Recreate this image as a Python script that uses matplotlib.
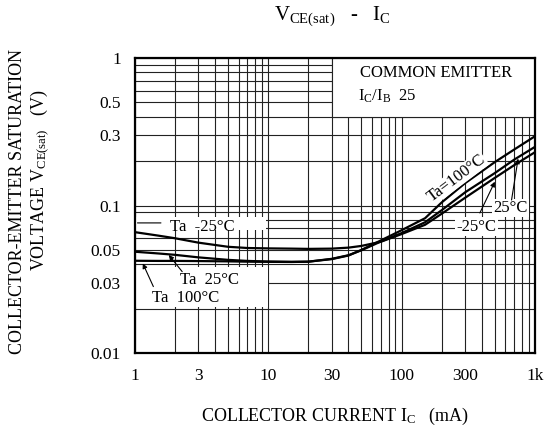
import matplotlib
matplotlib.use("Agg")
import matplotlib.pyplot as plt
from matplotlib.ticker import FixedLocator, LogLocator, NullFormatter
from matplotlib.patches import Rectangle

plt.rcParams['font.family'] = ['Liberation Serif', 'DejaVu Serif']
plt.rcParams['mathtext.fontset'] = 'custom'
plt.rcParams['mathtext.rm'] = 'Liberation Serif'
plt.rcParams['mathtext.it'] = 'Liberation Serif:italic'
plt.rcParams['mathtext.bf'] = 'Liberation Serif:bold'

# ---- data ----
ic = [1, 1.5, 2, 3, 5, 7, 10, 15, 20, 30, 40, 50, 70, 100, 150, 200, 300, 500, 700, 1000]
v_100 = [0.0422, 0.0421, 0.0421, 0.0420, 0.0418, 0.0416, 0.0415, 0.0414, 0.0416, 0.0433,
         0.0458, 0.0500, 0.0580, 0.068, 0.082, 0.105, 0.142, 0.197, 0.240, 0.295]
v_25 = [0.0486, 0.0473, 0.0463, 0.0445, 0.0428, 0.0421, 0.0417, 0.0415, 0.0416, 0.0435,
        0.0460, 0.0497, 0.0570, 0.065, 0.077, 0.093, 0.123, 0.166, 0.205, 0.250]
v_m25 = [0.0660, 0.0625, 0.0600, 0.0560, 0.0525, 0.0515, 0.0512, 0.0510, 0.0508, 0.0510,
         0.0518, 0.0532, 0.0568, 0.064, 0.074, 0.088, 0.113, 0.154, 0.188, 0.230]

x_ticks = [1, 3, 10, 30, 100, 300, 1000]
x_ticklabels = ['1', '3', '10', '30', '100', '300', '1k']
y_ticks = [0.01, 0.03, 0.05, 0.1, 0.3, 0.5, 1]
y_ticklabels = ['0.01', '0.03', '0.05', '0.1', '0.3', '0.5', '1']

# ---- figure ----
fig = plt.figure(figsize=(5.44, 4.32), dpi=100)
ax = fig.add_axes([0.2476, 0.1829, 0.7359, 0.6828])
ax.set_xscale('log')
ax.set_yscale('log')
ax.set_xlim(1, 1000)
ax.set_ylim(0.01, 1)

ax.xaxis.set_major_locator(FixedLocator(x_ticks))
ax.yaxis.set_major_locator(FixedLocator(y_ticks))
ax.set_xticklabels(x_ticklabels)
ax.set_yticklabels(y_ticklabels)
ax.xaxis.set_minor_locator(LogLocator(base=10, subs=range(1, 10), numticks=20))
ax.yaxis.set_minor_locator(LogLocator(base=10, subs=range(1, 10), numticks=20))
ax.xaxis.set_minor_formatter(NullFormatter())
ax.yaxis.set_minor_formatter(NullFormatter())
ax.tick_params(which='both', length=0, labelsize=12.5)
ax.tick_params(axis='x', pad=11)
ax.tick_params(axis='y', pad=10)
ax.grid(which='both', color='#222222', linewidth=0.8)
ax.set_axisbelow(True)
for s in ax.spines.values():
    s.set_linewidth(1.6)
    s.set_color('black')
    s.set_zorder(6)

# white label backings
ax.add_patch(Rectangle((30, 0.4), 970, 0.6, facecolor='white', edgecolor='#222222',
                       linewidth=0.8, zorder=2))
ax.add_patch(Rectangle((1, 0.068), 8.6, 0.0155, facecolor='white', edgecolor='none', zorder=2))
ax.add_patch(Rectangle((1, 0.0205), 9, 0.0175, facecolor='white', edgecolor='none', zorder=2))

# curves
for v in (v_m25, v_25, v_100):
    ax.plot(ic, v, color='black', linewidth=1.6, zorder=4)

fs = 12
ax.text(0.563, 0.948, 'COMMON EMITTER', transform=ax.transAxes, fontsize=fs,
        ha='left', va='center', zorder=5)
ax.text(0.558, 0.869, r'$\mathrm{I_C/I_B}$  25', transform=ax.transAxes, fontsize=fs,
        ha='left', va='center', zorder=5)

ax.text(1.84, 0.0715, 'Ta  -25°C', fontsize=fs, ha='left', va='center', zorder=5)
ax.annotate('', xy=(1.0, 0.0762), xytext=(1.65, 0.0762),
            arrowprops=dict(arrowstyle='-', color='black', lw=0.8), zorder=5)

ax.text(2.18, 0.0313, 'Ta  25°C', fontsize=fs, ha='left', va='center', zorder=5)
ax.annotate('', xy=(1.8, 0.0462), xytext=(2.27, 0.0356),
            arrowprops=dict(arrowstyle='-|>', color='black', lw=0.8,
                            mutation_scale=7, shrinkA=0, shrinkB=0), zorder=5)

ax.text(1.35, 0.0236, 'Ta  100°C', fontsize=fs, ha='left', va='center', zorder=5)
ax.annotate('', xy=(1.15, 0.0405), xytext=(1.38, 0.0282),
            arrowprops=dict(arrowstyle='-|>', color='black', lw=0.8,
                            mutation_scale=7, shrinkA=0, shrinkB=0), zorder=5)

ax.text(258, 0.153, 'Ta=100°C', fontsize=fs, ha='center', va='center', rotation=37,
        rotation_mode='anchor', zorder=5,
        bbox=dict(facecolor='white', edgecolor='none', pad=0.5))

ax.text(258, 0.0718, '-25°C', fontsize=fs, ha='left', va='center', zorder=5,
        bbox=dict(facecolor='white', edgecolor='none', pad=1.0))
ax.annotate('', xy=(500, 0.145), xytext=(386, 0.089),
            arrowprops=dict(arrowstyle='-|>', color='black', lw=0.8,
                            mutation_scale=7, shrinkA=0, shrinkB=0), zorder=5)

ax.text(483, 0.096, '25°C', fontsize=fs, ha='left', va='center', zorder=5,
        bbox=dict(facecolor='white', edgecolor='none', pad=1.0))
ax.annotate('', xy=(747, 0.208), xytext=(667, 0.109),
            arrowprops=dict(arrowstyle='-|>', color='black', lw=0.8,
                            mutation_scale=7, shrinkA=0, shrinkB=0), zorder=5)

# titles / axis labels
fig.text(332 / 544, 1 - 16 / 432, r'$\mathrm{V_{CE(sat)}}$   -   $\mathrm{I_C}$', fontsize=15,
         ha='center', va='center')
fig.text(335 / 544, 1 - 416 / 432, r'COLLECTOR CURRENT $\mathrm{I_C}$   (mA)', fontsize=13,
         ha='center', va='center')
fig.text(18 / 544, 1 - 201 / 432, 'COLLECTOR-EMITTER SATURATION', fontsize=13,
         rotation=90, ha='center', va='center')
fig.text(40 / 544, 1 - 180 / 432, r'VOLTAGE $\mathrm{V_{CE(sat)}}$   (V)', fontsize=13,
         rotation=90, ha='center', va='center')

fig.savefig('out.png', dpi=100, facecolor='white')
